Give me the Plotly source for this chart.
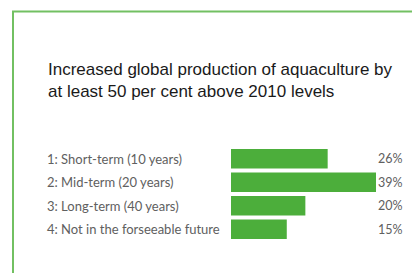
import plotly.graph_objects as go

categories = ["1: Short-term (10 years)", "2: Mid-term (20 years)",
              "3: Long-term (40 years)", "4: Not in the forseeable future"]
values = [26, 39, 20, 15]
value_labels = ["26%", "39%", "20%", "15%"]
title_text = "Increased global production of aquaculture by<br>at least 50 per cent above 2010 levels"

W, H = 412, 273
L, R = 231, 376
T, B = 147, 241

def px_x(x):
    return (x - L) / (R - L)

def px_y(y):
    return (B - y) / (B - T)

fig = go.Figure(go.Bar(
    x=values, y=categories, orientation="h",
    marker=dict(color="#4cae3b", line=dict(width=0)),
    hoverinfo="skip",
))

lab_font = dict(family="Lato, Open Sans, sans-serif", size=13, color="#606060")
pct_font = dict(family="Lato, Open Sans, sans-serif", size=12.5, color="#606060")
annotations = []
for c, lab in zip(categories, value_labels):
    annotations.append(dict(x=px_x(45), xref="paper", y=c, yref="y", text=c,
                            showarrow=False, xanchor="left", yanchor="middle", font=lab_font))
    annotations.append(dict(x=px_x(405), xref="paper", y=c, yref="y", text=lab,
                            showarrow=False, xanchor="right", yanchor="middle", font=pct_font))

annotations.append(dict(x=px_x(46), xref="paper", y=px_y(80.5), yref="paper",
                        text=title_text, showarrow=False, xanchor="left", yanchor="middle",
                        align="left",
                        font=dict(family="Liberation Sans, Arial, sans-serif", size=17, color="#1a1a1a")))

fig.update_layout(
    width=W, height=H,
    margin=dict(l=L, r=W - R, t=T, b=H - B, pad=0),
    paper_bgcolor="white", plot_bgcolor="white",
    showlegend=False,
    bargap=0.17,
    xaxis=dict(range=[0, 39], visible=False, fixedrange=True),
    yaxis=dict(autorange="reversed", visible=False, fixedrange=True),
    annotations=annotations,
    shapes=[dict(type="path", xref="paper", yref="paper",
                 path=f"M {px_x(13)} {px_y(300)} L {px_x(13)} {px_y(11.5)} L {px_x(430)} {px_y(11.5)}",
                 line=dict(color="#72c062", width=2))],
)

fig.write_html("out.html", config={"displayModeBar": False},
               post_script="document.body.style.margin='0';document.body.style.overflow='hidden';")
